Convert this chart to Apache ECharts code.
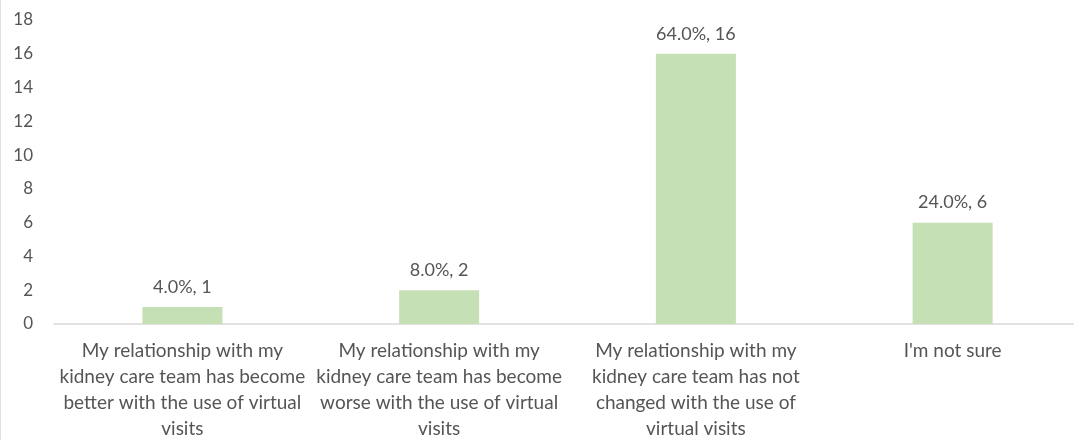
<!DOCTYPE html>
<html>
<head>
<meta charset="utf-8">
<script src="https://cdn.jsdelivr.net/npm/echarts@6/dist/echarts.min.js"></script>
<style>
  html, body { margin: 0; padding: 0; background: #ffffff; }
  #chart { width: 1074px; height: 440px; }
</style>
</head>
<body>
<div id="chart"></div>
<script>
const categories = [
  'My relationship with my\nkidney care team has become\nbetter with the use of virtual\nvisits',
  'My relationship with my\nkidney care team has become\nworse with the use of virtual\nvisits',
  'My relationship with my\nkidney care team has not\nchanged with the use of\nvirtual visits',
  "I'm not sure",
];
const counts = [1, 2, 16, 6];
const percents = ['4.0%', '8.0%', '64.0%', '24.0%'];
const yTicks = [0, 2, 4, 6, 8, 10, 12, 14, 16, 18];

const TEXT = '#555555';
const FONT = 'Lato';

const chart = echarts.init(document.getElementById('chart'));
chart.setOption({
  animation: false,
  textStyle: { fontFamily: FONT },
  grid: {
    left: 54, width: 1027, top: 20, bottom: 116,
    containLabel: false, outerBoundsMode: 'none',
  },
  xAxis: {
    type: 'category',
    data: categories,
    axisTick: { show: false },
    axisLine: { lineStyle: { color: '#d9d9d9', width: 1.5 } },
    axisLabel: {
      interval: 0,
      color: TEXT,
      fontFamily: FONT,
      fontSize: 19,
      lineHeight: 26,
      margin: 14,
      align: 'center',
    },
  },
  yAxis: {
    type: 'value',
    min: yTicks[0],
    max: yTicks[yTicks.length - 1],
    interval: 2,
    splitLine: { show: false },
    axisLine: { show: false },
    axisTick: { show: false },
    axisLabel: { color: TEXT, fontFamily: FONT, fontSize: 17, margin: 21 },
  },
  series: [{
    type: 'bar',
    data: counts,
    barWidth: 80,
    itemStyle: { color: '#c5e0b4' },
    label: {
      show: true,
      position: 'top',
      distance: 11,
      color: TEXT,
      fontFamily: FONT,
      fontSize: 18,
      formatter: (p) => percents[p.dataIndex] + ', ' + p.value,
    },
  }],
  graphic: [{
    type: 'line',
    shape: { x1: 0.5, y1: 0, x2: 0.5, y2: 440 },
    style: { stroke: '#e0e0e0', lineWidth: 1 },
  }],
});
</script>
</body>
</html>
